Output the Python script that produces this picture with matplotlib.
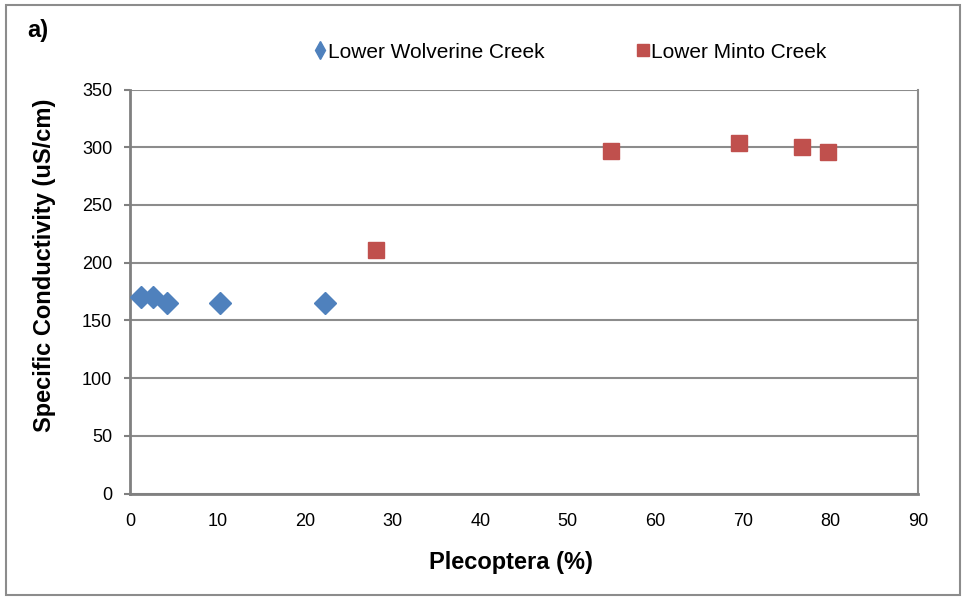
import matplotlib
matplotlib.use("Agg")
import matplotlib.pyplot as plt
from matplotlib.patches import Rectangle
from matplotlib.lines import Line2D

plt.rcParams['font.family'] = ['Liberation Sans', 'DejaVu Sans']

# Plecoptera (%) vs specific conductivity (uS/cm)
wolverine_x = [1.2, 2.6, 4.2, 10.3, 22.3]
wolverine_y = [170, 170, 165, 165, 165]
minto_x = [28.1, 54.9, 69.6, 76.7, 79.7]
minto_y = [211, 297, 304, 300, 296]

x_ticks = [0, 10, 20, 30, 40, 50, 60, 70, 80, 90]
y_ticks = [0, 50, 100, 150, 200, 250, 300, 350]

blue = '#4F81BD'
red = '#C0504D'
grid_col = '#8C8C8C'
axis_col = '#808080'

W, H = 963, 599
fig = plt.figure(figsize=(W / 100, H / 100), dpi=100)
ax = fig.add_axes([130 / W, 1 - 493.5 / H, (918 - 130) / W, (493.5 - 89.5) / H])

ax.plot(wolverine_x, wolverine_y, linestyle='none', marker='D', markersize=11,
        color=blue, markeredgecolor=blue, label='Lower Wolverine Creek', zorder=3)
ax.plot(minto_x, minto_y, linestyle='none', marker='s', markersize=12,
        color=red, markeredgecolor=red, label='Lower Minto Creek', zorder=3)

ax.set_xlim(0, 90)
ax.set_ylim(0, 350)
ax.set_xticks(x_ticks)
ax.set_yticks(y_ticks)
ax.tick_params(axis='both', labelsize=13, colors=axis_col, labelcolor='black')
ax.tick_params(axis='x', length=0, pad=14)
ax.tick_params(axis='y', length=4.3, width=1.5, pad=8.5)

ax.yaxis.grid(True, color=grid_col, linewidth=1.5)
ax.set_axisbelow(True)
ax.spines['top'].set_visible(False)
ax.spines['left'].set_color(axis_col)
ax.spines['left'].set_linewidth(2)
ax.spines['bottom'].set_color(axis_col)
ax.spines['bottom'].set_linewidth(2)
ax.spines['right'].set_color(grid_col)
ax.spines['right'].set_linewidth(1.5)

ax.set_xlabel('Plecoptera (%)', fontsize=17, fontweight='bold')
ax.set_ylabel('Specific Conductivity (uS/cm)', fontsize=17, fontweight='bold')
ax.xaxis.set_label_coords(511 / W, 1 - 563 / H, transform=fig.transFigure)
ax.yaxis.set_label_coords(45 / W, 1 - 265 / H, transform=fig.transFigure)
ax.xaxis.label.set_va('center')
ax.yaxis.label.set_va('center')

fig.text(38 / W, 1 - 31 / H, 'a)', fontsize=17, fontweight='bold',
         ha='center', va='center')

handles = [
    Line2D([], [], linestyle='none', marker='d', markersize=9, color=blue),
    Line2D([], [], linestyle='none', marker='s', markersize=9, color=red),
]
fig.legend(handles, ['Lower Wolverine Creek', 'Lower Minto Creek'],
           loc='center', bbox_to_anchor=(570 / W, 1 - 52 / H), ncol=2,
           frameon=False, fontsize=15, handlelength=0.6, handletextpad=0.1,
           columnspacing=4.4, borderpad=0, borderaxespad=0)

fig.patches.append(Rectangle((6 / W, 4 / H), 954 / W, 590 / H,
                             transform=fig.transFigure, fill=False,
                             edgecolor='#8C8C8C', linewidth=1.5))

fig.savefig('out.png', dpi=100, facecolor='white')
